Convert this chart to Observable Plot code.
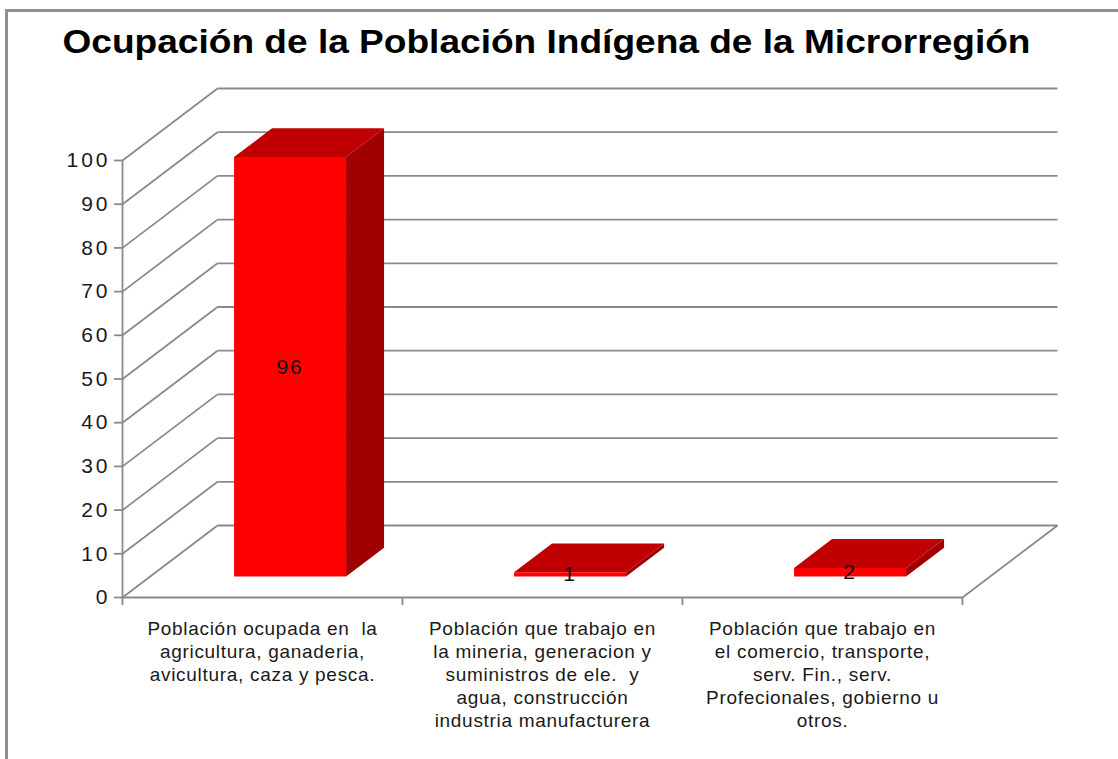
<!DOCTYPE html>
<html><head><meta charset="utf-8">
<script src="https://cdn.jsdelivr.net/npm/d3@7"></script>
<script src="https://cdn.jsdelivr.net/npm/@observablehq/plot@0.6"></script>
<style>
body{margin:0;background:#fff;}
#wrap{position:relative;width:1118px;height:759px;overflow:hidden;font-family:"Liberation Sans",Arial,sans-serif;}
#frame{position:absolute;left:5px;top:9px;right:-10px;bottom:-10px;border-left:3px solid #8f8f8f;border-top:3px solid #8f8f8f;}
#chart{position:absolute;left:0;top:0;}
</style></head><body>
<div id="wrap"><div id="frame"></div><div id="chart"></div></div>
<script>
const title = "Ocupación de la Población Indígena de la Microrregión";
const categories = [
  "Población ocupada en  la\nagricultura, ganaderia,\navicultura, caza y pesca.",
  "Población que trabajo en\nla mineria, generacion y\nsuministros de ele.  y\nagua, construcción\nindustria manufacturera",
  "Población que trabajo en\nel comercio, transporte,\nserv. Fin., serv.\nProfecionales, gobierno u\notros."
];
const values = [96, 1, 2];
const yTicks = [0, 10, 20, 30, 40, 50, 60, 70, 80, 90, 100];

// 3D depth offset, expressed in data units of the x and y scales
const DX = 95 / 280, DY = 72 / 4.37;
const D0 = 0.29, D1 = 0.69, HW = 0.2;

const bars = categories.map((c, i) => ({c, i, v: values[i], cx: i + 0.5}));
const P = (x, y, d) => ({x: x + d * DX, y: y + d * DY});
const frontFaces = [], topFaces = [], sideFaces = [];
for (const b of bars) {
  const l = b.cx - HW, r = b.cx + HW, v = b.v;
  [P(l,0,D0), P(r,0,D0), P(r,v,D0), P(l,v,D0)].forEach(p => frontFaces.push({...p, id: b.i}));
  [P(l,v,D0), P(r,v,D0), P(r,v,D1), P(l,v,D1)].forEach(p => topFaces.push({...p, id: b.i}));
  [P(r,0,D0), P(r,0,D1), P(r,v,D1), P(r,v,D0)].forEach(p => sideFaces.push({...p, id: b.i}));
}
const grey = "#8a8a8a";
const bounds = d3.range(categories.length + 1);

const chart = Plot.plot({
  width: 1118, height: 759,
  marginLeft: 122, marginRight: 156, marginTop: 160, marginBottom: 162,
  x: {domain: [0, categories.length], axis: null},
  y: {domain: [0, 100], axis: null},
  style: {background: "transparent", fontFamily: "'Liberation Sans', Arial, sans-serif", overflow: "visible"},
  marks: [
    Plot.link(yTicks, {x1: DX, x2: categories.length + DX, y1: v => v + DY, y2: v => v + DY, stroke: grey, strokeWidth: 1.8}),
    Plot.link(yTicks, {x1: 0, y1: v => v, x2: DX, y2: v => v + DY, stroke: grey, strokeWidth: 1.8}),
    Plot.ruleY([0], {x1: 0, x2: categories.length, stroke: grey, strokeWidth: 1.8}),
    Plot.link([0], {x1: categories.length, y1: 0, x2: categories.length + DX, y2: DY, stroke: grey, strokeWidth: 1.8}),
    Plot.ruleX([0], {y1: 0, y2: 100, stroke: grey, strokeWidth: 1.8}),
    Plot.ruleX(bounds, {y1: 0, y2: -8 / 4.37, stroke: grey, strokeWidth: 1.8}),
    Plot.axisY(yTicks, {label: null, tickSize: 8, tickPadding: 4, fontSize: 21, stroke: grey, strokeWidth: 1.8, fill: "#1a1a1a", tickFormat: d => String(d), ariaDescription: "yticks"}),
    Plot.line(sideFaces, {x: "x", y: "y", z: "id", fill: "#a00000", stroke: "none"}),
    Plot.line(topFaces, {x: "x", y: "y", z: "id", fill: "#c00000", stroke: "none"}),
    Plot.line(frontFaces, {x: "x", y: "y", z: "id", fill: "#ff0000", stroke: "none"}),
    Plot.text(bars, {x: d => d.cx + D0 * DX, y: d => d.v / 2 + D0 * DY, text: d => String(d.v), fontSize: 21, fill: "#111", ariaDescription: "vlabels"}),
    Plot.text(bars, {x: "cx", y: 0, text: "c", lineAnchor: "top", dy: 21.5, fontSize: 19, lineHeight: 23 / 19, fill: "#1a1a1a", ariaDescription: "clabels"}),
    Plot.text([title], {frameAnchor: "top", dx: 4, dy: -117.6, lineAnchor: "middle", fontSize: 33, fontWeight: "bold", fill: "#000", ariaDescription: "title"})
  ]
});
document.getElementById("chart").appendChild(chart);
const s = d3.select(chart);
s.selectAll('[aria-description="yticks"] text').attr("letter-spacing", "3px");
s.selectAll('[aria-description="vlabels"] text').attr("letter-spacing", "2px");
s.selectAll('[aria-description="clabels"] text').attr("letter-spacing", "0.7px");
s.selectAll('[aria-description="title"] text').attr("textLength", 968).attr("lengthAdjust", "spacingAndGlyphs");
</script>
</body></html>
